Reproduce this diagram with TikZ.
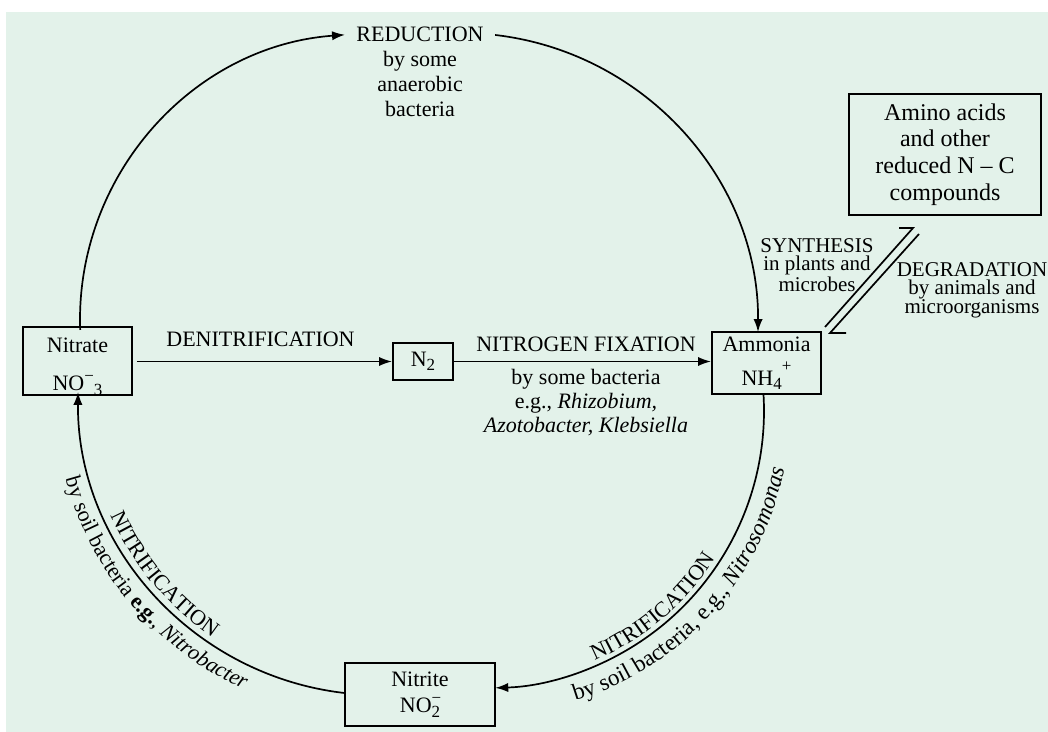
\documentclass[tikz,border=0pt]{standalone}
\usepackage{fontspec}
\setmainfont{Liberation Serif}
\usetikzlibrary{arrows.meta,decorations.text,calc}
\definecolor{bgmint}{RGB}{227,242,234}
\newcommand\dnsub[1]{\raisebox{-0.45ex}{\fontsize{8.5}{9}\selectfont #1}}
\newcommand\upsup[1]{\raisebox{0.9ex}{\fontsize{8.5}{9}\selectfont #1}}
\newcommand\cf{\fontsize{11}{13}\selectfont}
\newcommand\cfb{\fontsize{11.6}{13}\selectfont}
\begin{document}
\begin{tikzpicture}[x=0.5pt,y=-0.5pt,
  font=\fontsize{11}{13}\selectfont,
  box/.style={draw, line width=0.95pt, inner sep=0pt, align=center},
  lbl/.style={inner sep=0pt, align=center},
  flow/.style={line width=0.85pt, -{Latex[length=6.5pt,width=4.6pt]}},
  plain/.style={line width=0.85pt}
]
\useasboundingbox (0,0) rectangle (1048,732);
\fill[bgmint] (6,12) rectangle (1048,732);

% boxes
\node[box, minimum width=54.5pt, minimum height=31pt] (nitrate) at (77.5,361)
  {\rule{0pt}{13pt}Nitrate\\[6pt]NO\raisebox{0.9ex}{\fontsize{8.5}{9}\selectfont −}\dnsub{3}};
\node[box, minimum width=30pt, minimum height=18.5pt] (n2) at (423,361.5) {N\dnsub{2}};
\node[box, minimum width=54.5pt, minimum height=31pt] (ammonia) at (766.5,363)
  {Ammonia\\[4pt]NH\dnsub{4}\raisebox{1.3ex}{\fontsize{8.5}{9}\selectfont +}};
\node[box, minimum width=75pt, minimum height=31.5pt] (nitrite) at (420,694.5)
  {Nitrite\\NO\rlap{\upsup{−}}\dnsub{2}};
\node[box, minimum width=96pt, minimum height=60.5pt, font=\fontsize{12}{13.3}\selectfont] (amino) at (945,154.5)
  {Amino acids\\and other\\reduced N – C\\compounds};

% labels
\node[lbl] (denit) at (260.5,339) {DENITRIFICATION};
\node[lbl] (fix) at (586,344) {NITROGEN FIXATION};
\node[lbl, font=\fontsize{11}{12}\selectfont] (fixby) at (586,403)
  {by some bacteria\\e.g., \textit{Rhizobium,}\\\textit{Azotobacter, Klebsiella}};
\node[lbl, font=\fontsize{11}{12.5}\selectfont] (red) at (420,72)
  {REDUCTION\\by some\\anaerobic\\bacteria};
\node[lbl, font=\fontsize{10.5}{9.3}\selectfont] (syn) at (817,265)
  {SYNTHESIS\\in plants and\\microbes};
\node[lbl, font=\fontsize{10.5}{9.3}\selectfont] (deg) at (972,290)
  {DEGRADATION\\by animals and\\microorganisms};

% straight connectors
\draw[flow, shorten <=2pt] (nitrate.east |- n2.west) -- (n2.west);
\draw[flow] (n2.east) -- (n2.east -| ammonia.west);

% cycle arcs (each a circular arc of its own)
\coordinate (Cul) at (366,320);
\coordinate (Cur) at (461,330);
\coordinate (Clr) at (487,411);
\coordinate (Cll) at (379,394);
\coordinate (p1) at ($(Cul)+(178:286)$);
\coordinate (p3) at ($(Cur)+(276.6:297)$);
\coordinate (p5) at ($(Clr)+(-3.5:277)$);
\coordinate (p7) at ($(Cll)+(96.5:301)$);
\draw[flow] (p1) arc[start angle=178, end angle=265.8, radius=286];
\draw[flow] (p3) arc[start angle=276.6, end angle=360.4, radius=297];
\draw[flow] (p5) arc[start angle=-3.5, end angle=88.3, radius=277];
\draw[flow] (p7) arc[start angle=96.5, end angle=180.4, radius=301];

% synthesis / degradation harpoons
\coordinate (s1) at (825,327); \coordinate (t1) at (913,228); \coordinate (b1) at (899,228);
\coordinate (s2) at (919,234); \coordinate (t2) at (830,333); \coordinate (b2) at (846,333);
\draw[plain] (s1) -- (t1) -- (b1);
\draw[plain] (s2) -- (t2) -- (b2);

% curved labels, lower left
\path[decorate, decoration={text along path, text align=center,
   text={|\cf|NITRIFICATION}}]
  ($(Cll)+(190:295)$) arc[start angle=190, end angle=90, radius=295];
\path[decorate, decoration={text along path, text align=center,
   text={|\cf|by soil bacteria |\cf\bfseries|e.g.|\cf|,  |\cf\itshape|Nitrobacter}}]
  ($(Cll)+(190:325)$) arc[start angle=190, end angle=89.4, radius=325];
% curved labels, lower right
\path[decorate, decoration={text along path, text align=center,
   text={|\cf|NITRIFICATION}}]
  ($(Clr)+(99.7:272)$) arc[start angle=99.7, end angle=-0.3, radius=272];
\path[decorate, decoration={text along path, text align=center,
   text={|\cfb|by soil bacteria, e.g., |\cfb\itshape|Nitrosomonas}}]
  ($(Clr)+(94:303)$) arc[start angle=94, end angle=-10, radius=303];
\end{tikzpicture}
\end{document}
